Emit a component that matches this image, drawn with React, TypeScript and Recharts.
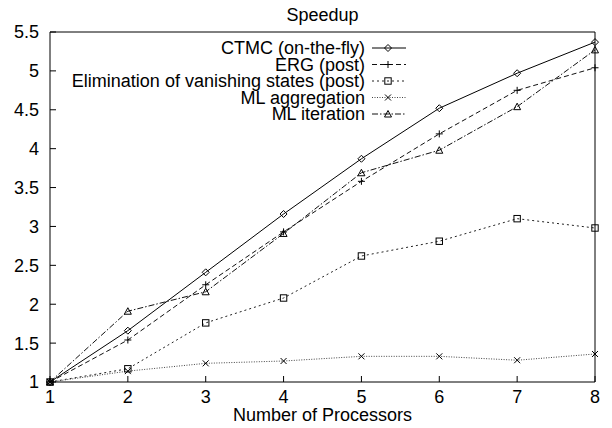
import { Label, Legend, Line, LineChart, XAxis, YAxis } from "recharts";

const processors = [1, 2, 3, 4, 5, 6, 7, 8];
const ctmc = [1, 1.66, 2.41, 3.16, 3.87, 4.52, 4.97, 5.37];
const erg = [1, 1.54, 2.25, 2.93, 3.58, 4.19, 4.75, 5.04];
const elimination = [1, 1.17, 1.76, 2.08, 2.62, 2.81, 3.1, 2.98];
const mlAggregation = [1, 1.14, 1.24, 1.27, 1.33, 1.33, 1.28, 1.36];
const mlIteration = [1, 1.91, 2.16, 2.91, 3.69, 3.98, 4.54, 5.27];

const yTicks = [1, 1.5, 2, 2.5, 3, 3.5, 4, 4.5, 5, 5.5];

type Shape = "diamond" | "plus" | "square" | "cross" | "triangle";

const series: { key: string; name: string; values: number[]; dash?: string; color: string; shape: Shape }[] = [
  { key: "ctmc", name: "CTMC (on-the-fly)", values: ctmc, color: "#000", shape: "diamond" },
  { key: "erg", name: "ERG (post)", values: erg, dash: "5 3", color: "#111", shape: "plus" },
  { key: "elim", name: "Elimination of vanishing states (post)", values: elimination, dash: "2 3", color: "#222", shape: "square" },
  { key: "agg", name: "ML aggregation", values: mlAggregation, dash: "1 1.5", color: "#444", shape: "cross" },
  { key: "iter", name: "ML iteration", values: mlIteration, dash: "6 2 1.5 2", color: "#111", shape: "triangle" },
];

const data = processors.map((p, i) => {
  const row: Record<string, number> = { p };
  series.forEach((s) => {
    row[s.key] = s.values[i];
  });
  return row;
});

const font = "'Liberation Sans', Arial, Helvetica, sans-serif";

function Marker({ cx, cy, shape }: { cx: number; cy: number; shape: Shape }) {
  const r = 3.5;
  const common = { stroke: "#000", strokeWidth: 1, fill: "none" };
  switch (shape) {
    case "diamond":
      return <path d={`M${cx},${cy - r}L${cx + r},${cy}L${cx},${cy + r}L${cx - r},${cy}Z`} {...common} />;
    case "plus":
      return <path d={`M${cx - r},${cy}H${cx + r}M${cx},${cy - r}V${cy + r}`} {...common} />;
    case "square":
      return <rect x={cx - 3.2} y={cy - 3.2} width={6.4} height={6.4} {...common} />;
    case "cross":
      return <path d={`M${cx - 3},${cy - 3}L${cx + 3},${cy + 3}M${cx - 3},${cy + 3}L${cx + 3},${cy - 3}`} {...common} />;
    default:
      return <path d={`M${cx},${cy - r}L${cx + r},${cy + 3}L${cx - r},${cy + 3}Z`} {...common} />;
  }
}

function LegendBox() {
  const rowTop = 10;
  const rowGap = 16.5;
  return (
    <svg width={370} height={90} style={{ fontFamily: font, overflow: "visible" }}>
      {series.map((s, i) => {
        const cy = rowTop + i * rowGap;
        return (
          <g key={s.key}>
            <text x={315} y={cy + 6} textAnchor="end" fontSize={18} fill="#000">
              {s.name}
            </text>
            <line x1={322} x2={356} y1={cy} y2={cy} stroke={s.color} strokeDasharray={s.dash} />
            <Marker cx={338} cy={cy} shape={s.shape} />
          </g>
        );
      })}
    </svg>
  );
}

export default function App() {
  return (
    <div style={{ position: "absolute", left: 0, top: 0, background: "#fff", fontFamily: font }}>
      <LineChart
        width={612}
        height={428}
        data={data}
        margin={{ top: 31, right: 16, bottom: 26, left: 10 }}
        style={{ fontFamily: font }}
      >
        <XAxis
          dataKey="p"
          type="number"
          domain={[1, 8]}
          ticks={processors}
          height={20}
          stroke="#000"
          tickSize={-6}
          tickMargin={14}
          tick={{ fontSize: 18, fill: "#000" }}
        >
          <Label value="Number of Processors" position="bottom" offset={6} fontSize={18} fill="#000" />
        </XAxis>
        <XAxis
          xAxisId="top"
          orientation="top"
          dataKey="p"
          type="number"
          domain={[1, 8]}
          ticks={processors}
          height={1}
          stroke="#000"
          tickSize={-6}
          tick={false}
        >
          <Label value="Speedup" position="top" offset={10} fontSize={18} fill="#000" />
        </XAxis>
        <YAxis
          type="number"
          domain={[1, 5.5]}
          ticks={yTicks}
          width={40}
          stroke="#000"
          tickSize={-6}
          tickMargin={17}
          tick={{ fontSize: 18, fill: "#000" }}
        />
        <YAxis
          yAxisId="right"
          orientation="right"
          type="number"
          domain={[1, 5.5]}
          ticks={yTicks}
          width={1}
          stroke="#000"
          tickSize={-6}
          tick={false}
        />
        <Legend layout="vertical" align="center" verticalAlign="middle" content={<LegendBox />} wrapperStyle={{ left: 50, top: 38, width: 370 }} />
        {series.map((s) => (
          <Line
            key={s.key}
            dataKey={s.key}
            name={s.name}
            stroke={s.color}
            strokeWidth={1}
            strokeDasharray={s.dash}
            isAnimationActive={false}
            dot={(props: any) => <Marker key={`${s.key}-${props.index}`} cx={props.cx} cy={props.cy} shape={s.shape} />}
            activeDot={false}
          />
        ))}
      </LineChart>
    </div>
  );
}
